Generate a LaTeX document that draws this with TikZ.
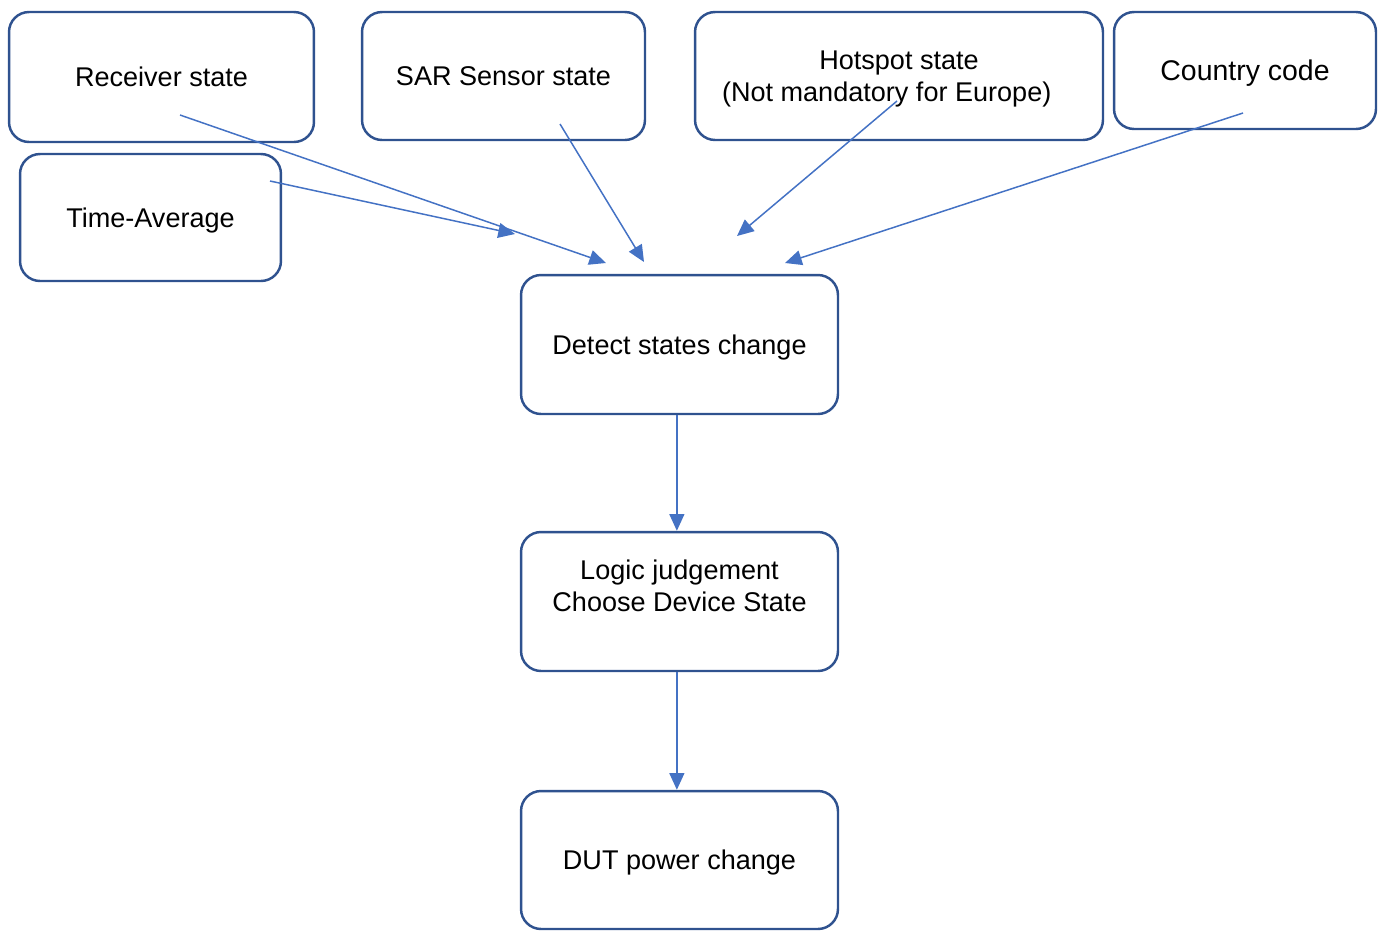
\documentclass[tikz,border=0pt]{standalone}
\usepackage{fontspec}
\setmainfont{Liberation Sans}
\usetikzlibrary{arrows.meta}

\definecolor{boxline}{HTML}{2F528F}
\definecolor{arrowline}{HTML}{4472C4}

\begin{document}
\begin{tikzpicture}[x=0.02cm, y=-0.02cm,
    statebox/.style={shape = rectangle, draw = boxline, line width=1.4pt, rounded corners=0.4cm,
      align=center, inner sep=0pt, text depth=0pt, font=\fontsize{15.4}{18.2}\selectfont},
    link/.style={arrowline, line width=0.85pt, -{Triangle[length=9.5pt, width=8.5pt]}}]
      \useasboundingbox (0,0) rectangle (1381,930);

      \node[statebox, minimum width=6.1cm, minimum height=2.6cm] at (161.5,77) (recv) {Receiver state};
      \node[statebox, minimum width=5.66cm, minimum height=2.56cm] at (503.5,76) (sar) {SAR Sensor state};
      \node[statebox, minimum width=8.16cm, minimum height=2.56cm] at (899,76) (hotspot) {Hotspot state\\(Not mandatory for Europe)\hspace*{14pt}};
      \node[statebox, minimum width=5.24cm, minimum height=2.34cm, font=\fontsize{16.2}{19}\selectfont] at (1245,70.5) (country) {Country code};
      \node[statebox, minimum width=5.22cm, minimum height=2.54cm] at (150.5,217.5) (timeavg) {Time-Average};

      \node[statebox, minimum width=6.34cm, minimum height=2.78cm] at (679.5,344.5) (detect) {Detect states change};
      \node[statebox, minimum width=6.34cm, minimum height=2.78cm] at (679.5,601.5) (logic) {Logic judgement\\Choose Device State\\\mbox{}};
      \node[statebox, minimum width=6.34cm, minimum height=2.76cm] at (679.5,860) (dut) {DUT power change};

      % --------------------------------------------------------------------------
      \coordinate (recvTail) at (180,115);
      \coordinate (recvHead) at (606,263);
      \coordinate (avgTail) at (270,181);
      \coordinate (avgHead) at (515,234);
      \coordinate (sarTail) at (560,124);
      \coordinate (sarHead) at (644,262);
      \coordinate (hotTail) at (897,101);
      \coordinate (hotHead) at (737,236);
      \coordinate (countryTail) at (1243,113);
      \coordinate (countryHead) at (785,263);

      \draw[link] (recvTail) -- (recvHead);
      \draw[link] (avgTail) -- (avgHead);
      \draw[link] (sarTail) -- (sarHead);
      \draw[link] (hotTail) -- (hotHead);
      \draw[link] (countryTail) -- (countryHead);

      \draw[link] ([xshift=-1.5] detect.south) -- ([xshift=-1.5] logic.north);
      \draw[link] ([xshift=-1.5] logic.south) -- ([xshift=-1.5] dut.north);
    \end{tikzpicture}
\end{document}
